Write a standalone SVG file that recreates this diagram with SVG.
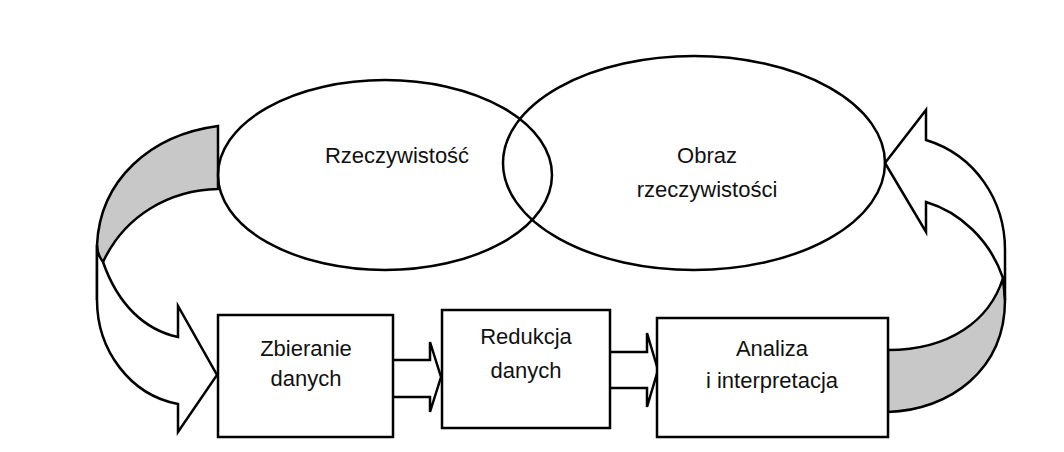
<svg xmlns="http://www.w3.org/2000/svg" width="1064" height="452" viewBox="0 0 1064 452">
<style>
.s{fill:#fff;stroke:#000;stroke-width:2.5;stroke-linejoin:miter}
.g{fill:#c8c8c8;stroke:#000;stroke-width:2.5}
.n{fill:none;stroke:#000;stroke-width:2.5}
text{font-family:"Liberation Sans",Arial,sans-serif;font-size:22px;fill:#111;text-anchor:middle}
</style>
<rect width="1064" height="452" fill="#fff"/>
<g id="connectors">
<path class="g" d="M218,126 C150,135 100,180 97,245 L97,300 L103,262 C125,215 170,190 218,189 Z"/>
<path class="s" d="M103,262 C118,305 145,330 178,337 L178,306 L217,375 L178,432 L178,404 C130,395 97,350 97,300 L97,245 C97,252 100,258 103,262 Z"/>
<path class="g" d="M888,350 C950,350 990,320 1003,278 L1005,300 C1005,370 950,410 888,412 Z"/>
<path class="s" d="M885,163 L926,110 L926,140 C975,155 1005,200 1005,250 L1005,300 C1005,290 1004,283 1003,278 C990,240 960,212 926,202 L926,232 Z"/>
<path class="s" d="M393,360 H430 V342 L441,377 L430,412 V397 H393"/>
<path class="s" d="M610,352 H647 V333 L658,370 L647,407 V388 H610"/>
</g>
<g id="rzeczywistosc"><ellipse class="n" cx="385" cy="175" rx="167" ry="95"/><text x="397" y="163">Rzeczywistość</text></g>
<g id="obraz"><ellipse class="n" cx="694" cy="163" rx="191" ry="107"/><text x="707" y="163">Obraz</text><text x="707" y="197">rzeczywistości</text></g>
<g id="zbieranie"><rect class="s" x="218" y="315" width="175" height="122"/><text x="306" y="356">Zbieranie</text><text x="306" y="386">danych</text></g>
<g id="redukcja"><rect class="s" x="442" y="310" width="168" height="118"/><text x="526" y="344">Redukcja</text><text x="526" y="378">danych</text></g>
<g id="analiza"><rect class="s" x="657" y="318" width="231" height="119"/><text x="772" y="356">Analiza</text><text x="772" y="388">i interpretacja</text></g>
</svg>
